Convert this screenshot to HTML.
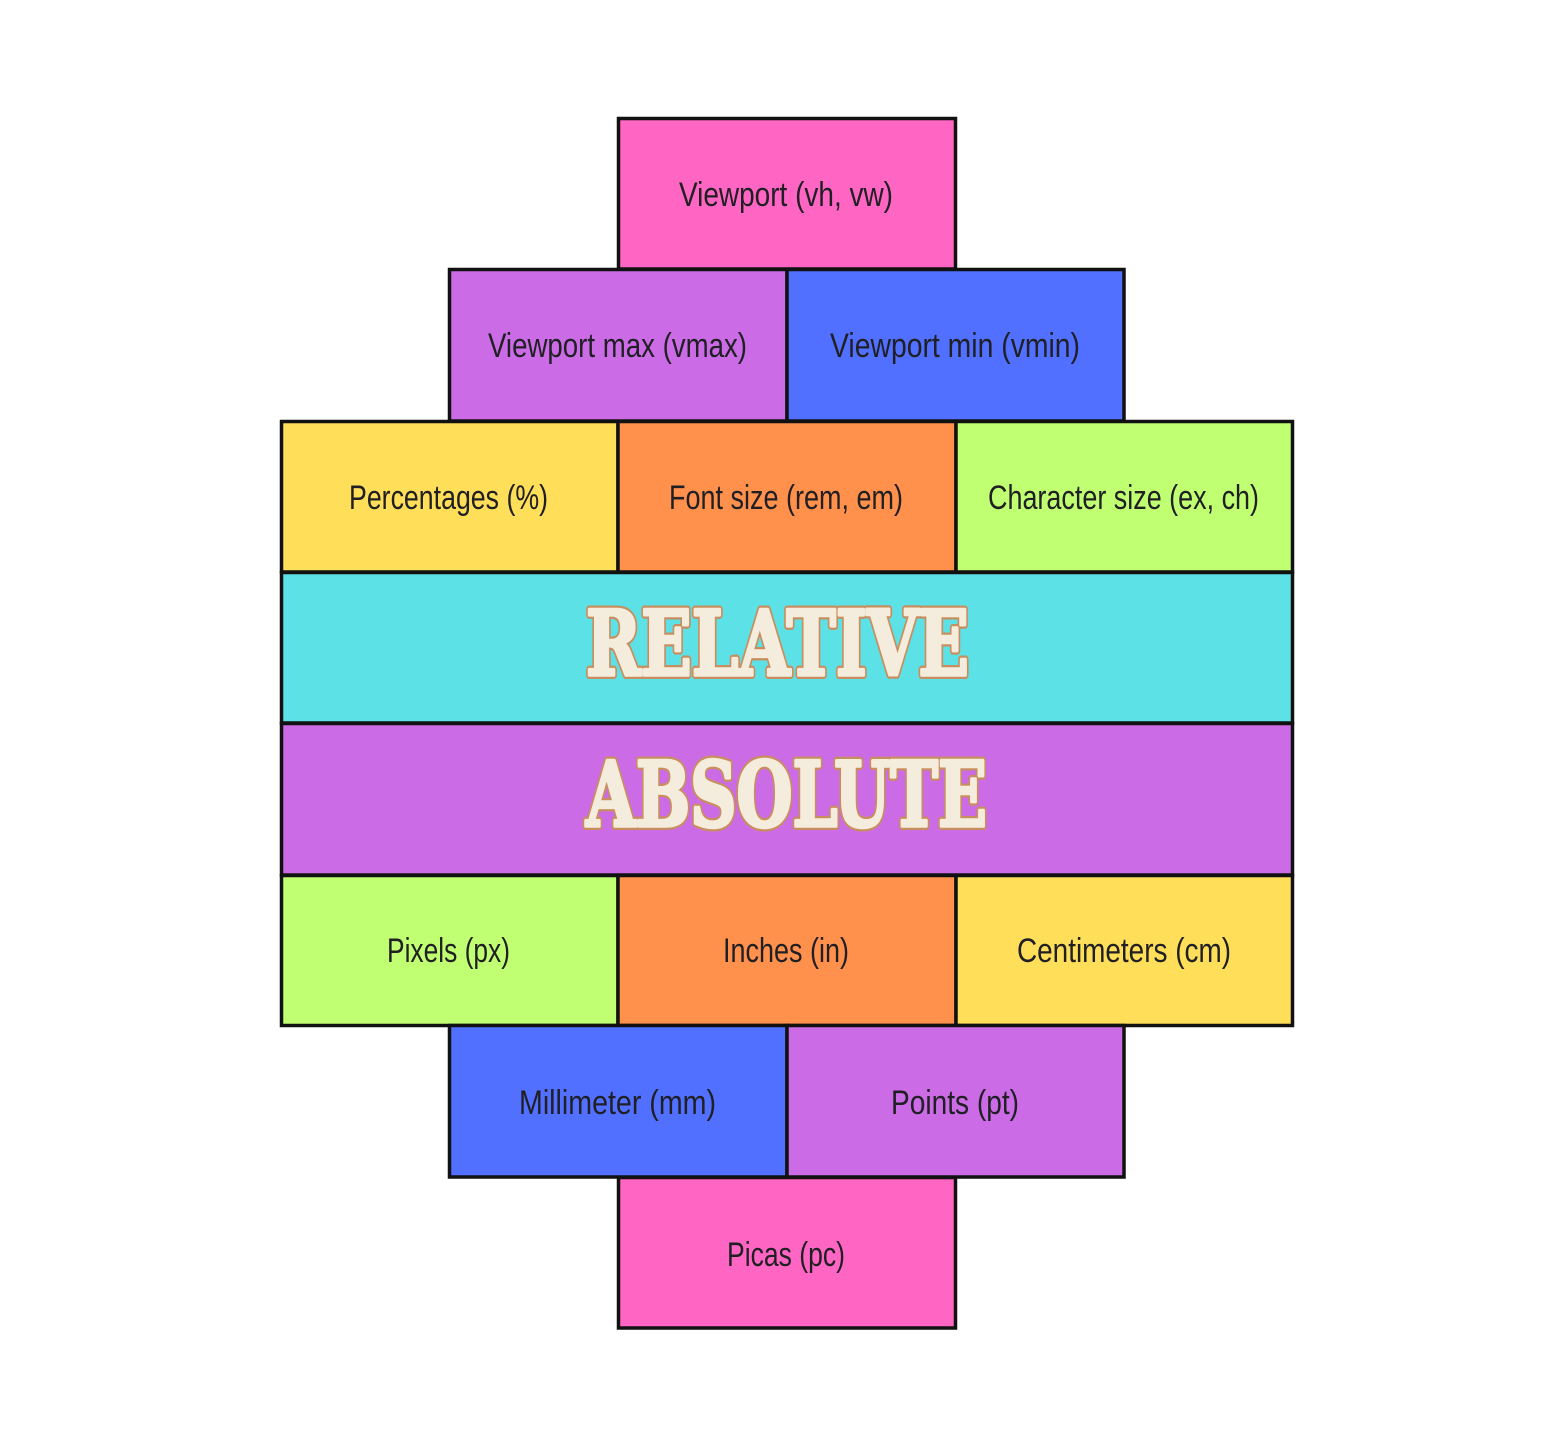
<!DOCTYPE html>
<html>
<head>
<meta charset="utf-8">
<style>
  html,body{margin:0;padding:0;background:#ffffff;}
  svg{display:block;}
  .lbl{font-family:"Liberation Sans",sans-serif;font-size:34px;fill:#1f1f24;}
  .big{font-family:"DejaVu Serif","Liberation Serif",serif;font-weight:bold;font-size:90px;stroke-linejoin:round;}
  .big.o{fill:#C98E5E;stroke:#C98E5E;stroke-width:8px;}
  .big.i{fill:#F4ECDC;stroke:#F4ECDC;stroke-width:3.5px;}
</style>
</head>
<body>
<svg width="1554" height="1446" viewBox="0 0 1554 1446" xmlns="http://www.w3.org/2000/svg">
  <rect x="0" y="0" width="1554" height="1446" fill="#ffffff"/>
  <g stroke="#111111" stroke-width="3.5">
    <rect x="618.5" y="118.5" width="337" height="150.5" fill="#FF66C4"/>
    <rect x="449.5" y="269.5" width="337.5" height="151.5" fill="#CB6CE6"/>
    <rect x="787" y="269.5" width="337" height="151.5" fill="#5170FF"/>
    <rect x="281.5" y="421.5" width="336.5" height="150.5" fill="#FFDE59"/>
    <rect x="618" y="421.5" width="338" height="150.5" fill="#FF914D"/>
    <rect x="956" y="421.5" width="336.5" height="150.5" fill="#C1FF72"/>
    <rect x="281.5" y="572.5" width="1011" height="150.5" fill="#5CE1E6"/>
    <rect x="281.5" y="723.5" width="1011" height="151.5" fill="#CB6CE6"/>
    <rect x="281.5" y="875.5" width="336.5" height="150" fill="#C1FF72"/>
    <rect x="618" y="875.5" width="338" height="150" fill="#FF914D"/>
    <rect x="956" y="875.5" width="336.5" height="150" fill="#FFDE59"/>
    <rect x="449.5" y="1025.5" width="337.5" height="151.5" fill="#5170FF"/>
    <rect x="787" y="1025.5" width="337" height="151.5" fill="#CB6CE6"/>
    <rect x="618.5" y="1177.5" width="337" height="150.5" fill="#FF66C4"/>
  </g>

  <g class="lbl" text-anchor="middle">
    <text class="lbl" x="786" y="206" textLength="214" lengthAdjust="spacingAndGlyphs">Viewport (vh, vw)</text>
    <text class="lbl" x="617.5" y="357" textLength="259" lengthAdjust="spacingAndGlyphs">Viewport max (vmax)</text>
    <text class="lbl" x="955" y="357" textLength="250" lengthAdjust="spacingAndGlyphs">Viewport min (vmin)</text>
    <text class="lbl" x="448.5" y="509" textLength="199" lengthAdjust="spacingAndGlyphs">Percentages (%)</text>
    <text class="lbl" x="786" y="509" textLength="234" lengthAdjust="spacingAndGlyphs">Font size (rem, em)</text>
    <text class="lbl" x="1123.5" y="509" textLength="271" lengthAdjust="spacingAndGlyphs">Character size (ex, ch)</text>
    <text class="lbl" x="448.5" y="962" textLength="123" lengthAdjust="spacingAndGlyphs">Pixels (px)</text>
    <text class="lbl" x="786" y="962" textLength="126" lengthAdjust="spacingAndGlyphs">Inches (in)</text>
    <text class="lbl" x="1124" y="962" textLength="214" lengthAdjust="spacingAndGlyphs">Centimeters (cm)</text>
    <text class="lbl" x="617.5" y="1114" textLength="197" lengthAdjust="spacingAndGlyphs">Millimeter (mm)</text>
    <text class="lbl" x="955" y="1114" textLength="128" lengthAdjust="spacingAndGlyphs">Points (pt)</text>
    <text class="lbl" x="786" y="1266" textLength="118" lengthAdjust="spacingAndGlyphs">Picas (pc)</text>
  </g>

  <text class="big o" x="777.5" y="675" text-anchor="middle" textLength="383" lengthAdjust="spacingAndGlyphs">RELATIVE</text>
  <text class="big i" x="777.5" y="675" text-anchor="middle" textLength="383" lengthAdjust="spacingAndGlyphs">RELATIVE</text>
  <text class="big o" x="786.5" y="826" text-anchor="middle" textLength="401" lengthAdjust="spacingAndGlyphs">ABSOLUTE</text>
  <text class="big i" x="786.5" y="826" text-anchor="middle" textLength="401" lengthAdjust="spacingAndGlyphs">ABSOLUTE</text>
</svg>
</body>
</html>
